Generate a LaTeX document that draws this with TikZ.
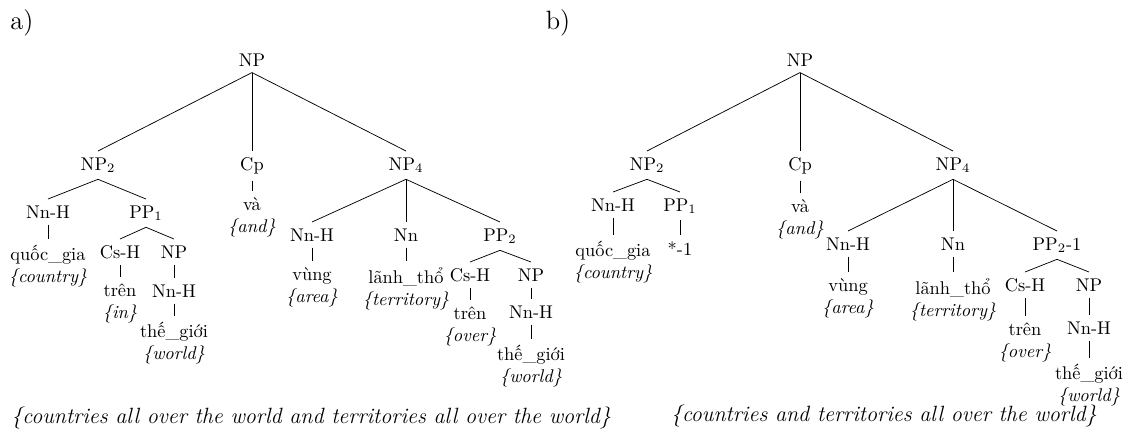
\documentclass[tikz,border=0pt]{standalone}
\begin{document}
\begin{tikzpicture}[x=0.5435pt,y=-0.5435pt,
  t/.style={anchor=north, align=center, inner sep=3.33pt},
  br/.style={line width=0.4pt},
  lbl/.style={font=\Large, inner sep=0pt},
  captext/.style={font=\large\itshape, inner sep=0pt}]
\useasboundingbox (0,0) rectangle (1135,432);
\newcommand{\gl}[1]{\textit{\{#1\}}}
% ---------- tree a ----------
\node[lbl] (la) at (22,23) {a)};
\node[t] (aNP) at (252,47) {NP};
\node[t] (aNPtwo) at (98,151) {NP$_2$};
\node[t] (aCp) at (252,151) {Cp};
\node[t] (aNPfour) at (406,151) {NP$_4$};
\node[t] (aNnHa) at (48,199) {Nn-H};
\node[t] (aPPone) at (146,199) {PP$_1$};
\node[t] (ava) at (252,191) {và\\\gl{and}};
\node[t] (aquoc) at (48,239) {quốc\_gia\\\gl{country}};
\node[t] (aCsHa) at (120,239) {Cs-H};
\node[t] (aNPa) at (174,239) {NP};
\node[t] (atrena) at (120,277) {trên\\\gl{in}};
\node[t] (aNnHb) at (174,278) {Nn-H};
\node[t] (atheA) at (174,316) {thế\_giới\\\gl{world}};
\node[t] (aNnHc) at (312,222) {Nn-H};
\node[t] (aNn) at (406,222) {Nn};
\node[t] (aPPtwo) at (500,222) {PP$_2$};
\node[t] (avung) at (312,261) {vùng\\\gl{area}};
\node[t] (alanh) at (406,261) {lãnh\_thổ\\\gl{territory}};
\node[t] (aCsHb) at (470,262) {Cs-H};
\node[t] (aNPb) at (531,262) {NP};
\node[t] (atrenb) at (470,300) {trên\\\gl{over}};
\node[t] (aNnHd) at (531,299) {Nn-H};
\node[t] (atheB) at (531,339) {thế\_giới\\\gl{world}};
\node[captext, anchor=base west] (capa) at (11,423) {\{countries all over the world and territories all over the world\}};
\foreach \p/\c in {aNP/aNPtwo,aNP/aCp,aNP/aNPfour,aNPtwo/aNnHa,aNPtwo/aPPone,aCp/ava,
  aNnHa/aquoc,aPPone/aCsHa,aPPone/aNPa,aCsHa/atrena,aNPa/aNnHb,aNnHb/atheA,
  aNPfour/aNnHc,aNPfour/aNn,aNPfour/aPPtwo,aNnHc/avung,aNn/alanh,aPPtwo/aCsHb,aPPtwo/aNPb,
  aCsHb/atrenb,aNPb/aNnHd,aNnHd/atheB}
  \draw[br] (\p.south) -- (\c.north);
% ---------- tree b ----------
\node[lbl] (lb) at (558,23) {b)};
\node[t] (bNP) at (800,47) {NP};
\node[t] (bNPtwo) at (647,151) {NP$_2$};
\node[t] (bCp) at (800,151) {Cp};
\node[t] (bNPfour) at (953,151) {NP$_4$};
\node[t] (bNnHa) at (613,192) {Nn-H};
\node[t] (bPPone) at (680,192) {PP$_1$};
\node[t] (bva) at (800,193) {và\\\gl{and}};
\node[t] (bquoc) at (613,235) {quốc\_gia\\\gl{country}};
\node[t] (bstar) at (680,235) {*-1};
\node[t] (bNnHc) at (848,231) {Nn-H};
\node[t] (bNn) at (953,231) {Nn};
\node[t] (bPPtwo) at (1057,231) {PP$_2$-1};
\node[t] (bvung) at (848,272) {vùng\\\gl{area}};
\node[t] (blanh) at (953,272) {lãnh\_thổ\\\gl{territory}};
\node[t] (bCsH) at (1025,272) {Cs-H};
\node[t] (bNPb) at (1089,272) {NP};
\node[t] (btren) at (1025,316) {trên\\\gl{over}};
\node[t] (bNnHd) at (1089,315) {Nn-H};
\node[t] (bthe) at (1089,358) {thế\_giới\\\gl{world}};
\node[captext, anchor=base east] (capb) at (1097,421) {\{countries and territories all over the world\}};
\foreach \p/\c in {bNP/bNPtwo,bNP/bCp,bNP/bNPfour,bNPtwo/bNnHa,bNPtwo/bPPone,bCp/bva,
  bNnHa/bquoc,bPPone/bstar,
  bNPfour/bNnHc,bNPfour/bNn,bNPfour/bPPtwo,bNnHc/bvung,bNn/blanh,bPPtwo/bCsH,bPPtwo/bNPb,
  bCsH/btren,bNPb/bNnHd,bNnHd/bthe}
  \draw[br] (\p.south) -- (\c.north);
\end{tikzpicture}
\end{document}
